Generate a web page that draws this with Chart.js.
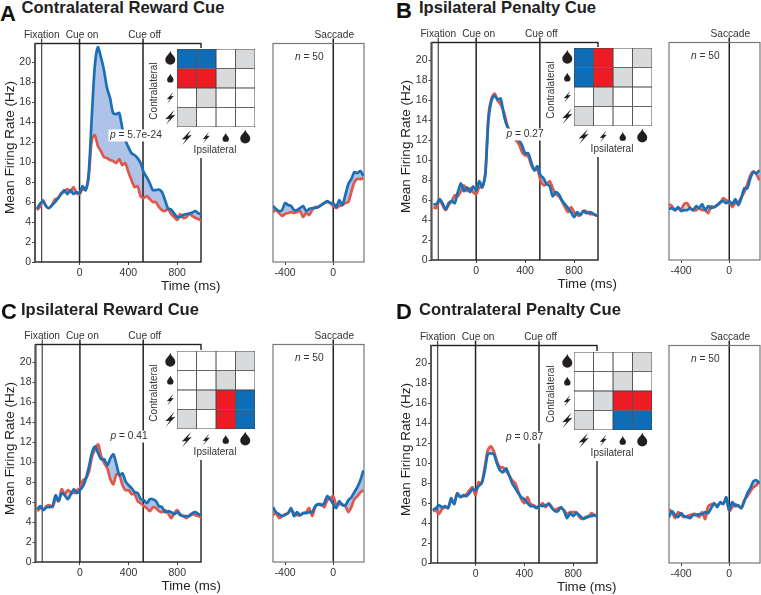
<!DOCTYPE html>
<html><head><meta charset="utf-8">
<style>
html,body{margin:0;padding:0;background:#fff;width:761px;height:595px;overflow:hidden;font-family:"Liberation Sans",Arial,sans-serif}
canvas{position:absolute}
.letter{position:absolute;font-weight:bold;font-size:22px;line-height:22px;color:#111}
.title{position:absolute;font-weight:bold;font-size:16.6px;line-height:18px;color:#222;white-space:nowrap}
</style>
<script src="https://cdn.jsdelivr.net/npm/chart.js@4/dist/chart.umd.js"></script>
</head><body>
<script>
const timesCue = [-350,-325,-300,-275,-250,-225,-200,-175,-150,-125,-100,-75,-50,-25,0,25,50,75,100,125,150,175,200,225,250,275,300,325,350,375,400,425,450,475,500,525,550,575,600,625,650,675,700,725,750,775,800,825,850,875,900,925,950,975,1000];
const timesSaccade = [-500,-475,-450,-425,-400,-375,-350,-325,-300,-275,-250,-225,-200,-175,-150,-125,-100,-75,-50,-25,0,25,50,75,100,125,150,175,200,225,250];
const xTicksCue = [0,400,800];
const xTicksSaccade = [-400,0];
const yTicks = [0,2,4,6,8,10,12,14,16,18,20];
const eventsCue = [-310,0,520];
const eventNamesCue = ["Fixation","Cue on","Cue off"];
const rowLabels = ["large reward","small reward","small penalty","large penalty"];
const cellValues = [1,1,1,1];

const aCueBlue = [5.3,5.8,6.1,5.6,5.4,5.7,6.0,6.4,6.8,7.2,6.8,7.2,6.8,7.0,6.9,7.6,7.2,8.9,14.5,19.6,21.5,20.5,19.2,17.4,16.4,14.9,14.8,14.9,13.4,12.2,11.5,10.9,10.7,10.4,9.9,9.0,8.5,7.9,7.2,7.2,7.25,7.0,6.2,5.35,5.25,4.85,4.5,4.5,4.7,4.8,4.85,4.95,5.1,4.85,4.8];
const aCueRed = [5.2,5.5,6.2,5.6,5.4,5.7,6.3,6.4,6.9,7.0,7.3,7.0,7.5,6.9,6.8,7.3,7.2,8.5,12.2,12.7,11.6,11.1,10.5,10.4,10.2,10.1,9.9,10.3,9.7,9.9,9.0,8.2,7.5,7.6,6.6,6.4,6.6,6.3,6.0,6.0,5.5,5.2,5.1,5.3,4.8,4.5,4.2,4.8,4.4,4.5,4.8,4.6,4.4,4.3,4.1];
const aSacBlue = [5.6,5.3,5.1,5.2,5.9,5.7,5.6,5.2,5.2,5.4,5.6,5.1,5.3,5.4,5.4,5.5,5.7,5.9,6.1,5.9,5.9,5.5,6.2,5.7,6.7,7.8,8.3,9.0,8.9,9.1,8.6];
const aSacRed = [5.0,5.2,4.9,4.6,4.8,4.9,5.0,4.9,5.0,5.1,4.5,4.9,4.7,5.2,5.5,5.5,5.7,5.9,6.0,5.9,5.6,5.4,5.6,5.7,5.9,6.0,7.0,8.0,8.3,8.3,8.4];

const bCueBlue = [5.6,5.6,6.1,5.7,5.1,5.7,5.9,5.7,6.8,7.7,6.9,7.3,6.8,7.4,7.0,7.9,7.3,8.6,14.0,16.0,16.5,16.1,16.2,14.6,13.5,13.0,12.6,12.2,12.0,11.5,10.7,10.7,9.8,9.0,9.4,8.5,8.2,7.6,7.4,6.4,6.8,6.6,6.0,5.6,5.2,4.8,4.3,4.8,4.5,4.9,4.7,4.8,4.7,4.5,4.4];
const bCueRed = [5.3,5.2,6.0,5.5,5.0,5.5,5.9,6.5,6.4,6.9,7.5,6.9,7.2,6.8,6.6,7.3,7.3,8.8,14.5,16.2,16.7,16.0,15.6,14.9,13.7,12.8,12.4,12.0,11.6,10.8,10.5,10.4,9.5,9.0,9.1,8.0,7.5,7.6,7.9,7.2,6.6,6.4,5.9,5.3,4.8,5.3,4.8,4.5,4.5,4.9,4.9,4.6,4.6,4.5,4.4];
const bSacBlue = [5.1,5.2,5.0,5.3,4.9,5.0,5.0,5.2,5.0,5.4,5.2,5.6,5.0,5.4,5.2,5.3,5.5,5.8,5.9,5.7,5.9,5.6,6.1,5.5,6.2,7.2,7.2,8.2,8.8,8.7,9.0];
const bSacRed = [5.6,5.4,5.0,5.2,5.1,5.6,5.7,5.2,5.0,5.0,5.2,5.0,5.0,4.7,5.4,5.3,5.5,5.7,6.2,6.0,5.8,5.3,5.7,5.8,6.3,6.8,7.6,8.5,8.9,8.6,8.0];

const cCueBlue = [5.3,5.6,5.2,5.5,5.5,5.6,6.7,6.1,6.9,6.7,6.3,6.8,7.3,6.9,7.2,7.6,8.4,9.6,11.0,11.6,10.9,10.3,10.3,9.7,10.4,10.8,9.8,8.7,8.9,8.1,7.7,7.4,7.0,6.9,6.3,6.2,5.9,6.3,6.3,6.1,5.6,5.5,5.0,5.1,5.0,4.8,5.0,4.7,4.6,4.6,4.6,4.9,5.0,4.8,4.7];
const cCueRed = [5.1,5.4,5.3,5.6,5.7,5.5,6.3,6.1,7.3,6.8,7.2,7.0,6.9,7.2,7.4,8.2,8.4,9.1,10.6,11.3,11.8,10.6,9.9,9.4,8.3,7.8,8.8,8.7,7.7,7.2,7.2,6.8,6.8,6.1,5.9,5.6,5.4,5.1,5.5,5.4,5.1,5.0,5.2,4.9,4.4,4.9,5.2,4.8,4.6,4.4,4.7,4.8,4.7,4.6,4.5];
const cSacBlue = [5.5,5.0,4.8,4.6,4.7,4.9,5.4,4.6,5.0,4.7,4.9,4.9,5.0,5.0,5.6,5.8,5.7,5.9,6.6,6.3,5.8,5.4,6.1,5.7,5.7,6.2,6.5,7.0,7.5,8.2,9.2];
const cSacRed = [4.7,4.9,4.4,4.6,4.8,4.9,5.2,4.9,4.7,4.7,4.9,5.0,5.4,4.6,5.5,5.8,5.8,5.5,6.2,6.4,6.6,5.7,5.8,5.8,5.6,5.0,5.5,6.3,6.6,7.0,7.2];

const dCueBlue = [5.3,5.5,5.8,5.6,5.7,5.5,6.5,5.9,7.0,6.6,6.8,6.7,7.0,7.4,7.3,7.7,8.0,9.2,10.9,11.0,10.9,10.0,9.3,9.1,9.5,8.8,8.0,7.5,7.0,6.6,6.4,6.0,5.7,5.7,5.5,5.8,5.7,5.8,5.9,5.5,5.2,5.2,5.6,5.2,4.5,5.0,4.7,5.0,4.8,4.5,4.5,4.7,4.7,4.8,4.6];
const dCueRed = [5.2,5.3,4.9,5.4,5.6,5.6,6.2,6.1,6.9,6.7,6.7,6.9,7.3,7.6,6.8,8.1,8.0,9.6,11.3,11.7,11.2,10.2,9.6,9.6,9.2,8.8,8.3,8.0,7.2,6.4,6.0,6.6,5.9,5.8,5.6,5.7,6.0,5.6,6.0,5.6,5.3,5.5,5.5,5.3,4.9,5.1,5.1,5.1,4.6,4.4,4.6,4.6,5.0,4.8,4.6];
const dSacBlue = [4.6,5.2,4.8,4.6,5.0,4.7,4.6,4.5,4.8,4.8,4.9,4.9,5.1,5.0,5.5,6.0,5.6,6.1,5.9,6.6,5.3,6.1,5.7,5.8,5.5,6.2,7.0,7.5,8.2,8.3,8.0];
const dSacRed = [5.4,5.1,4.5,5.1,4.8,4.6,4.7,4.8,4.9,4.9,4.6,5.1,4.4,5.7,5.9,5.9,5.8,6.0,6.0,6.3,5.2,5.6,5.9,5.7,5.5,6.3,6.7,7.2,7.6,7.8,8.2];

const B='#0f6db7',R='#ed1c24',G='#d9dadc',W='#ffffff';
const aCells=[[B,B,W,G],[R,R,G,W],[W,G,W,W],[G,W,W,W]];
const bCells=[[B,R,W,G],[B,R,G,W],[W,G,W,W],[G,W,W,W]];
const cCells=[[W,W,W,G],[W,W,G,W],[W,G,R,B],[G,W,R,B]];
const dCells=[[W,W,W,G],[W,W,G,W],[W,G,R,R],[G,W,B,B]];

const FONT='"Liberation Sans",Arial,sans-serif';
const BLUE='#1b6fb4', RED='#e1574b';
const panels=[
 {letter:'A',letterX:0,letterY:3,title:'Contralateral Reward Cue',titleX:21.5,titleY:-1,lx:35,lr:200.5,rl:273,rr:363.5,top:43.5,y0:261.5,sqX:177,sqY:49,p:'5.7e-24',cue:[aCueBlue,aCueRed],sac:[aSacBlue,aSacRed],cells:aCells},
 {letter:'B',letterX:396,letterY:0,title:'Ipsilateral Penalty Cue',titleX:419,titleY:-1,lx:431.5,lr:597.5,rl:669,rr:760,top:42.5,y0:260,sqX:574,sqY:48,p:'0.27',cue:[bCueBlue,bCueRed],sac:[bSacBlue,bSacRed],cells:bCells},
 {letter:'C',letterX:1,letterY:301,title:'Ipsilateral Reward Cue',titleX:21,titleY:301,lx:35.5,lr:201,rl:273,rr:363.5,top:344.5,y0:562,sqX:177,sqY:351,p:'0.41',cue:[cCueBlue,cCueRed],sac:[cSacBlue,cSacRed],cells:cCells},
 {letter:'D',letterX:396,letterY:301,title:'Contralateral Penalty Cue',titleX:419,titleY:301,lx:431,lr:597,rl:669,rr:760,top:345.5,y0:563,sqX:574,sqY:352,p:'0.87',cue:[dCueBlue,dCueRed],sac:[dSacBlue,dSacRed],cells:dCells}
];
const PX_PER_HZ=9.97;

function newCanvas(left,top,w,h){
  const c=document.createElement('canvas');
  c.width=w;c.height=h;c.style.left=left+'px';c.style.top=top+'px';c.style.width=w+'px';c.style.height=h+'px';
  document.body.appendChild(c);return c;
}
function label(ctx,t,x,y,size,color,align,rot){
  ctx.save();ctx.font=size+'px '+FONT;ctx.fillStyle=color;ctx.textAlign=align||'center';ctx.textBaseline='middle';
  ctx.translate(x,y);if(rot)ctx.rotate(rot);ctx.fillText(t,0,0);ctx.restore();
}
function italicEq(ctx,it,rest,x,y,size){
  ctx.save();ctx.textBaseline='middle';ctx.textAlign='left';ctx.fillStyle='#333';
  ctx.font='italic '+size+'px '+FONT;ctx.fillText(it,x,y);const w=ctx.measureText(it).width;
  ctx.font=size+'px '+FONT;ctx.fillText(rest,x+w,y);ctx.restore();
}
function traceChart(cfg){
  const yMax=(cfg.y0-cfg.top)/PX_PER_HZ;
  const padL=cfg.axisLeft?35:10, padR=cfg.padR, padT=20, bottom=42;
  const canvasLeft=Math.floor(cfg.left)-padL, canvasTop=Math.floor(cfg.top)-padT;
  const fx=cfg.left-Math.floor(cfg.left), fy=cfg.top-Math.floor(cfg.top);
  const cw=Math.ceil(cfg.right-cfg.left+padL+padR+fx), ch=Math.ceil(cfg.y0-cfg.top+padT+bottom+fy);
  const c=newCanvas(canvasLeft,canvasTop,cw,ch);
  const overlay={id:'overlay_'+cfg.key,
    beforeDatasetsDraw(chart){
      const ctx=chart.ctx,a=chart.chartArea,xs=chart.scales.x;
      cfg.events.forEach((ev,i)=>{
        const px=xs.getPixelForValue(ev);
        ctx.save();ctx.strokeStyle='#222';ctx.lineWidth=(cfg.axisLeft&&i===0)?1:1.5;
        ctx.beginPath();ctx.moveTo(px,a.top-5);ctx.lineTo(px,a.bottom);ctx.stroke();ctx.restore();
        label(ctx,cfg.eventNames[i],px+cfg.eventShift[i],a.top-8.5,10.2,'#333');
      });
      ctx.save();ctx.strokeStyle=cfg.frame;ctx.lineWidth=cfg.axisLeft?1.4:1.2;
      ctx.strokeRect(a.left,a.top,a.right-a.left,a.bottom-a.top);
      if(cfg.axisLeft){ctx.strokeStyle='#555';ctx.lineWidth=2;ctx.beginPath();ctx.moveTo(a.left,a.top);ctx.lineTo(a.left,a.bottom);ctx.stroke();}
      ctx.restore();
    },
    afterDatasetsDraw(chart){
      const ctx=chart.ctx,a=chart.chartArea;
      if(cfg.axisLeft){
        const x=a.left+75,y=a.top+92;
        ctx.save();ctx.font='10.2px '+FONT;
        const tw=ctx.measureText('p = '+cfg.p).width;
        ctx.fillStyle='#fff';ctx.fillRect(x-1.5,y-6,tw+3,12);ctx.restore();
        italicEq(ctx,'p',' = '+cfg.p,x,y,10.2);
        label(ctx,'Time (ms)',a.left+155.7,a.bottom+24.5,13.3,'#222');
        label(ctx,'Mean Firing Rate (Hz)',a.left-25,a.top+104,13.5,'#222','center',-Math.PI/2);
      } else {
        italicEq(ctx,'n',' = 50',a.left+22,a.top+14,10.2);
      }
    }
  };
  new Chart(c,{type:'line',
    data:{datasets:[
      {label:'Blue',data:cfg.times.map((t,i)=>({x:t,y:cfg.series[0][i]})),borderColor:BLUE,borderWidth:2.7,pointRadius:0,tension:0.25,
       fill:{target:1,above:'#aec3e7',below:'#dcccd2'}},
      {label:'Red',data:cfg.times.map((t,i)=>({x:t,y:cfg.series[1][i]})),borderColor:RED,borderWidth:2.7,pointRadius:0,tension:0.25,fill:false}
    ]},
    options:{responsive:false,animation:false,devicePixelRatio:1,events:[],
      layout:{padding:{left:cfg.axisLeft?fx:padL+fx,right:padR,top:padT+fy,bottom:0}},
      plugins:{legend:{display:false},tooltip:{enabled:false},filler:{drawTime:'beforeDatasetsDraw'}},
      scales:{
        x:{type:'linear',min:cfg.xMin,max:cfg.xMax,
           grid:{display:true,drawOnChartArea:false,drawTicks:true,tickLength:3,color:'#444'},
           border:{display:false},
           ticks:{color:'#333',font:{size:10.5,family:FONT},padding:2,maxRotation:0,autoSkip:false},
           afterBuildTicks(s){s.ticks=cfg.xTicks.map(v=>({value:v}));},
           afterFit(s){s.height=bottom;s.paddingLeft=0;s.paddingRight=0;}},
        y:{type:'linear',min:0,max:yMax,display:cfg.axisLeft,
           grid:{display:true,drawOnChartArea:false,drawTicks:true,tickLength:3,color:'#444'},
           border:{display:false},
           ticks:{color:'#333',font:{size:10.5,family:FONT},padding:1,autoSkip:false},
           afterBuildTicks(s){s.ticks=yTicks.map(v=>({value:v}));},
           afterFit(s){s.width=cfg.axisLeft?padL:0;s.paddingTop=0;s.paddingBottom=0;}}
      }},
    plugins:[overlay]});
}
function drop(ctx,cx,cy,r){
  ctx.beginPath();
  ctx.moveTo(cx,cy-1.6*r);
  ctx.bezierCurveTo(cx+0.15*r,cy-0.9*r,cx+r,cy-0.5*r,cx+r,cy+0.2*r);
  ctx.arc(cx,cy+0.2*r,r,0,Math.PI);
  ctx.bezierCurveTo(cx-r,cy-0.5*r,cx-0.15*r,cy-0.9*r,cx,cy-1.6*r);
  ctx.closePath();ctx.fillStyle='#231f20';ctx.fill();
}
function bolt(ctx,cx,cy,w,h){
  const pts=[[0.42,-0.5],[-0.5,0.14],[-0.05,0.1],[-0.45,0.5],[0.5,-0.16],[0.08,-0.12]];
  ctx.beginPath();pts.forEach((p,i)=>{const X=cx+p[0]*w,Y=cy+p[1]*h;i?ctx.lineTo(X,Y):ctx.moveTo(X,Y);});
  ctx.closePath();ctx.fillStyle='#231f20';ctx.fill();
}
function insetChart(p){
  const size=78,padL=30,padB=30;
  const c=newCanvas(p.sqX-padL,p.sqY-1,size+padL+2,size+padB+2);
  const insetPlugin={id:'inset_'+p.letter,
    beforeDraw(chart){
      const ctx=chart.ctx;ctx.save();ctx.fillStyle='#fff';
      ctx.fillRect(0,0,c.width,size+2);
      ctx.fillRect(padL-14,size+2,c.width-padL+14,padB);
      ctx.restore();
    },
    afterDraw(chart){
      const ctx=chart.ctx,a=chart.chartArea,xs=chart.scales.x,ys=chart.scales.y;
      const rows=[0,1,2,3].map(i=>ys.getPixelForValue(i));
      const cols=[0.5,1.5,2.5,3.5].map(v=>xs.getPixelForValue(v));
      const ix=a.left-6.7, iy=a.bottom+10.5;
      drop(ctx,ix,rows[0],5);drop(ctx,ix,rows[1]+0.5,3.2);
      bolt(ctx,ix,rows[2],7,11.5);bolt(ctx,ix,rows[3],10,15);
      bolt(ctx,cols[0],iy,10,15);bolt(ctx,cols[1],iy,7,11.5);
      drop(ctx,cols[2],iy+0.5,3.2);drop(ctx,cols[3],iy,5);
      label(ctx,'Contralateral',a.left-22.3,(a.top+a.bottom)/2+3,10,'#333','center',-Math.PI/2);
      label(ctx,'Ipsilateral',(a.left+a.right)/2-1,a.bottom+23,10,'#333');
    }};
  new Chart(c,{type:'bar',
    data:{labels:rowLabels,datasets:[0,1,2,3].map(col=>({
      data:cellValues,backgroundColor:p.cells.map(r=>r[col]),borderColor:'#444',borderWidth:0.8,borderSkipped:false,
      barPercentage:1,categoryPercentage:1}))},
    options:{indexAxis:'y',responsive:false,animation:false,devicePixelRatio:1,events:[],
      layout:{padding:{left:padL,right:2,top:1,bottom:padB+1}},
      plugins:{legend:{display:false},tooltip:{enabled:false}},
      scales:{x:{stacked:true,min:0,max:4,display:false},y:{stacked:true,display:false}}},
    plugins:[insetPlugin]});
}
panels.forEach(p=>{
  const l=document.createElement('div');l.className='letter';l.textContent=p.letter;l.style.left=p.letterX+'px';l.style.top=p.letterY+'px';document.body.appendChild(l);
  const t=document.createElement('div');t.className='title';t.textContent=p.title;t.style.left=p.titleX+'px';t.style.top=(p.titleY)+'px';document.body.appendChild(t);
  traceChart({key:p.letter+'c',axisLeft:true,left:p.lx,right:p.lr,top:p.top,y0:p.y0,padR:25,times:timesCue,series:p.cue,xMin:-365,xMax:995,xTicks:xTicksCue,
    events:eventsCue,eventNames:eventNamesCue,eventShift:[0,2.5,1.5],frame:'#222',p:p.p});
  traceChart({key:p.letter+'s',axisLeft:false,left:p.rl,right:p.rr,top:p.top,y0:p.y0,padR:1,times:timesSaccade,series:p.sac,xMin:-500,xMax:255,xTicks:xTicksSaccade,
    events:[0],eventNames:['Saccade'],eventShift:[1],frame:'#777'});
  insetChart(p);
});
</script>
</body></html>
